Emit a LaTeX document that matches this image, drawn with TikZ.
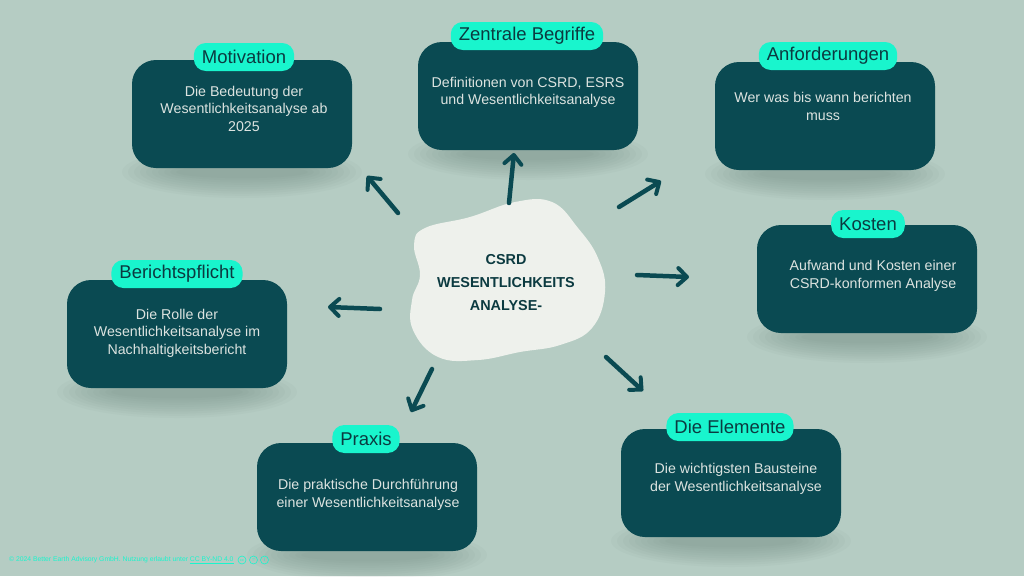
\documentclass[tikz,border=0pt]{standalone}
\usepackage{fontspec}
\setmainfont{Liberation Sans}
\usetikzlibrary{arrows.meta}
\definecolor{bgc}{HTML}{B5CCC3}
\definecolor{dteal}{HTML}{0A4A52}
\definecolor{lbltxt}{HTML}{0B3A40}
\definecolor{aqua}{HTML}{19F5CD}
\definecolor{boxtext}{HTML}{DCE3E0}
\definecolor{blobc}{HTML}{EEF1EC}
\definecolor{shadowc}{HTML}{5E7A70}
\newcommand{\cardshadow}[3]{% cx, bottom y, half width
  \foreach \k in {0,...,9} {
    \fill[shadowc, opacity=0.045] (#1,#2+4) ellipse ({#3-6*\k} and {26-2.2*\k});
  }}
\begin{document}
\begin{tikzpicture}[x=1pt,y=-1pt,
  cardbox/.style={draw=none, fill=dteal, rounded corners=24pt, minimum width=220pt, minimum height=108pt},
  pill/.style={fill=aqua, rounded corners=12pt, inner xsep=8pt, inner ysep=0pt, minimum height=28pt,
     text=lbltxt, font=\fontsize{18.5}{20}\selectfont},
  body/.style={text=boxtext, align=center, font=\fontsize{14.2}{17.5}\selectfont},
  arr/.style={draw=dteal, line width=4.5pt, line cap=round, line join=round,
     -{Straight Barb[length=9pt, width=17pt, line width=4pt, round]}},
  title/.style={text=lbltxt, align=center, font=\fontsize{14.4}{23}\selectfont\bfseries}
]
\fill[bgc] (0,0) rectangle (1024,576);
\useasboundingbox (0,0) rectangle (1024,576);

% shadows
\cardshadow{242}{168}{120}
\cardshadow{528}{150}{120}
\cardshadow{825}{170}{120}
\cardshadow{867}{333}{120}
\cardshadow{177}{388}{120}
\cardshadow{367}{551}{120}
\cardshadow{731}{537}{120}

% cards
\node[cardbox] (mot) at (242,114) {};
\node[body] (motT) at (244,108.5) {Die Bedeutung der\\Wesentlichkeitsanalyse ab\\2025};
\node[pill] (motL) at (244,57) {Motivation};

\node[cardbox] (zen) at (528,96) {};
\node[body] (zenT) at (528,92.5) {Definitionen von CSRD, ESRS\\und Wesentlichkeitsanalyse};
\node[pill] (zenL) at (527,36) {Zentrale Begriffe};

\node[cardbox] (anf) at (825,116) {};
\node[body] (anfT) at (823,106.5) {Wer was bis wann berichten\\muss};
\node[pill] (anfL) at (828,56) {Anforderungen};

\node[cardbox] (kos) at (867,279) {};
\node[body] (kosT) at (873,276) {Aufwand und Kosten einer\\CSRD-konformen Analyse};
\node[pill] (kosL) at (868,224) {Kosten};

\node[cardbox] (ber) at (177,334) {};
\node[body] (berT) at (177,333) {Die Rolle der\\Wesentlichkeitsanalyse im\\Nachhaltigkeitsbericht};
\node[pill] (berL) at (177,274) {Berichtspflicht};

\node[cardbox] (pra) at (367,497) {};
\node[body] (praT) at (368,495) {Die praktische Durchführung\\einer Wesentlichkeitsanalyse};
\node[pill] (praL) at (366,439) {Praxis};

\node[cardbox] (ele) at (731,483) {};
\node[body] (eleT) at (736,479) {Die wichtigsten Bausteine\\der Wesentlichkeitsanalyse};
\node[pill] (eleL) at (730,427) {Die Elemente};

% central blob
\fill[blobc] plot[smooth cycle, tension=0.7] coordinates {
  (425,228) (470,217) (515,202) (552,202) (578,228) (598,258) (605,292)
  (592,328) (560,345) (520,352) (478,360) (438,357) (413,330) (412,300)
  (420,275) (414,245)};
\node[title] (center) at (506,283) {CSRD\\WESENTLICHKEITS\\ANALYSE-};

% arrows
\coordinate (t1) at (398,213); \coordinate (h1) at (367,176);
\coordinate (t2) at (509,203); \coordinate (h2) at (514,153);
\coordinate (t3) at (619,207); \coordinate (h3) at (661,181);
\coordinate (t4) at (637,275); \coordinate (h4) at (689,277);
\coordinate (t5) at (606,357); \coordinate (h5) at (643,391);
\coordinate (t6) at (432,369); \coordinate (h6) at (411,412);
\coordinate (t7) at (380,309); \coordinate (h7) at (328,307);
\foreach \i in {1,...,7} { \draw[arr] (t\i) -- (h\i); }

% footer
\node[anchor=west, text=aqua, inner sep=0pt, font=\fontsize{6.8}{7}\selectfont] (copy) at (9,560)
  {© 2024 Better Earth Advisory GmbH. Nutzung erlaubt unter \underline{CC BY-ND 4.0}};
\node[circle, draw=aqua, line width=0.6pt, inner sep=0pt, minimum size=8pt, text=aqua, font=\fontsize{3.8}{4}\selectfont] (cc1) at (242,560) {cc};
\node[circle, draw=aqua, line width=0.6pt, inner sep=0pt, minimum size=8pt, text=aqua, font=\fontsize{5}{4}\selectfont] (cc2) at (253.5,560) {=};
\node[circle, draw=aqua, line width=0.6pt, inner sep=0pt, minimum size=8pt, text=aqua, font=\fontsize{5}{4}\selectfont] (cc3) at (264.5,560) {i};
\end{tikzpicture}
\end{document}
